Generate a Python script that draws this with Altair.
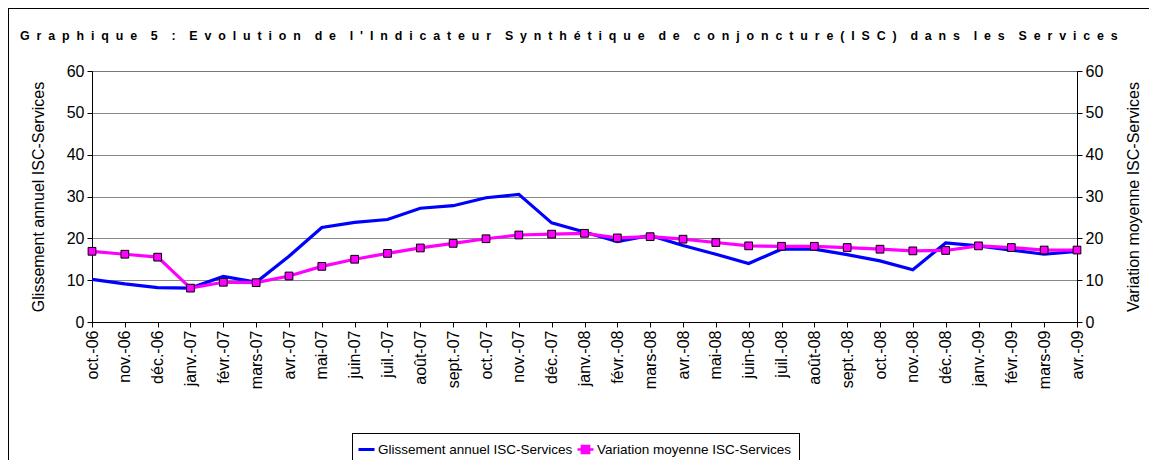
import altair as alt
import pandas as pd

months = ["oct.-06", "nov.-06", "déc.-06", "janv.-07", "févr.-07", "mars-07", "avr.-07",
          "mai-07", "juin-07", "juil.-07", "août-07", "sept.-07", "oct.-07", "nov.-07",
          "déc.-07", "janv.-08", "févr.-08", "mars-08", "avr.-08", "mai-08", "juin-08",
          "juil.-08", "août-08", "sept.-08", "oct.-08", "nov.-08", "déc.-08", "janv.-09",
          "févr.-09", "mars-09", "avr.-09"]

glissement = [10.2, 9.1, 8.2, 8.1, 10.9, 9.5, 15.7, 22.6, 23.8, 24.5, 27.2, 27.8, 29.7, 30.5,
              23.7, 21.5, 19.2, 20.7, 18.3, 16.2, 14.0, 17.4, 17.4, 16.1, 14.6, 12.5, 18.9,
              18.2, 17.2, 16.2, 16.9]

variation = [16.9, 16.2, 15.5, 8.1, 9.5, 9.4, 11.0, 13.3, 15.0, 16.4, 17.7, 18.8, 19.9, 20.8,
             21.0, 21.2, 20.1, 20.4, 19.8, 19.0, 18.2, 18.1, 18.1, 17.8, 17.4, 17.0, 17.1,
             18.2, 17.8, 17.2, 17.2]

series_names = ["Glissement annuel ISC-Services", "Variation moyenne ISC-Services"]
title_text = "Graphique 5 : Evolution de l'Indicateur Synthétique de conjoncture(ISC) dans les Services"

df_g = pd.DataFrame({"mois": months, "serie": series_names[0], "valeur": glissement})
df_v = pd.DataFrame({"mois": months, "serie": series_names[1], "valeur": variation})

NB = "\u00a0"
spaced_title = (NB * 4).join((NB * 2).join(list(w)) for w in title_text.split(" "))

FONT = "Liberation Sans"

x_enc = alt.X("mois:N", sort=months, title=None,
              scale=alt.Scale(type="point", padding=0),
              axis=alt.Axis(labelAngle=270, labelAlign="right", labelBaseline="middle",
                            labelFontSize=16, labelFont=FONT, labelColor="black",
                            labelPadding=3, tickSize=5, tickColor="black",
                            domainColor="black", labelOverlap=False))

yscale = alt.Scale(domain=[0, 60], nice=False)
yvals = [0, 10, 20, 30, 40, 50, 60]

blue_line = alt.Chart(df_g).mark_line(strokeWidth=3.2).encode(
    x=x_enc,
    y=alt.Y("valeur:Q", scale=yscale,
            axis=alt.Axis(orient="left", title=series_names[0], values=yvals,
                          titleFontSize=16, titleFont=FONT, titleFontWeight="normal",
                          titleColor="black", titlePadding=20,
                          labelFontSize=16, labelFont=FONT, labelColor="black", labelPadding=3,
                          tickSize=5, tickColor="black", domainColor="black",
                          grid=True, gridColor="#111111", gridDash=[1, 1], gridWidth=1)),
    color=alt.Color("serie:N", scale=alt.Scale(domain=[series_names[0]], range=["#0000FF"]),
                    legend=alt.Legend(title=None, orient="none", direction="horizontal",
                                      legendX=265, legendY=369, padding=0, labelLimit=400,
                                      labelFontSize=13.5, labelFont=FONT, labelColor="black",
                                      symbolType="stroke", symbolStrokeWidth=3, symbolSize=256,
                                      symbolStrokeColor="#0000FF", labelOffset=2)),
)

pink_line = alt.Chart(df_v).mark_line(strokeWidth=3.2, color="#FF00FF").encode(
    x=x_enc,
    y=alt.Y("valeur:Q", scale=yscale, axis=None),
)

pink_points = alt.Chart(df_v).mark_square(size=60, filled=True, stroke="black",
                                          strokeWidth=1, opacity=1).encode(
    x=x_enc,
    y=alt.Y("valeur:Q", scale=yscale,
            axis=alt.Axis(orient="right", title=series_names[1], values=yvals,
                          titleFontSize=16, titleFont=FONT, titleFontWeight="normal",
                          titleColor="black", titlePadding=39, titleAngle=270,
                          labelFontSize=16, labelFont=FONT, labelColor="black", labelPadding=3,
                          tickSize=5, tickColor="black", domainColor="black", grid=False)),
    color=alt.Color("serie:N", scale=alt.Scale(domain=[series_names[1]], range=["#FF00FF"]),
                    legend=alt.Legend(title=None, orient="none", direction="horizontal",
                                      legendX=484, legendY=369, padding=0, labelLimit=400,
                                      labelFontSize=13.5, labelFont=FONT, labelColor="black",
                                      symbolType="M-1,0H-0.45M0.45,0H1M-0.45,-0.45H0.45V0.45H-0.45Z",
                                      symbolSize=256, symbolStrokeWidth=2.5,
                                      symbolStrokeColor="#FF00FF", symbolFillColor="#FF00FF",
                                      labelOffset=2)),
)

frame_top = alt.Chart(df_g).mark_rule(color="black", strokeWidth=1).encode(
    x=alt.value(-83.5), x2=alt.value(1060), y=alt.value(-62.5))
frame_left = alt.Chart(df_g).mark_rule(color="black", strokeWidth=1).encode(
    x=alt.value(-83.5), y=alt.value(-62.5), y2=alt.value(400))
legend_box = alt.Chart(df_g).mark_rect(fill="white", fillOpacity=0, stroke="black",
                                       strokeWidth=1).encode(
    x=alt.value(260.5), x2=alt.value(707.5), y=alt.value(362.5), y2=alt.value(393.5))

chart = alt.layer(blue_line, pink_line, pink_points, frame_top, frame_left, legend_box).resolve_scale(
    y="shared", color="independent"
).resolve_axis(
    y="independent"
).properties(
    width=985, height=251,
    autosize=alt.AutoSizeParams(type="none"),
    padding={"left": 84, "top": 63, "right": 72, "bottom": 138},
    title=alt.TitleParams(spaced_title, anchor="start", frame="group", dx=-72, offset=0, dy=34,
                          fontSize=12.4, font=FONT, fontWeight="bold", color="black"),
).configure_view(
    stroke="black", strokeWidth=1
).configure(background="white")

chart.save("out.html", embed_options={"renderer": "svg", "actions": False})
